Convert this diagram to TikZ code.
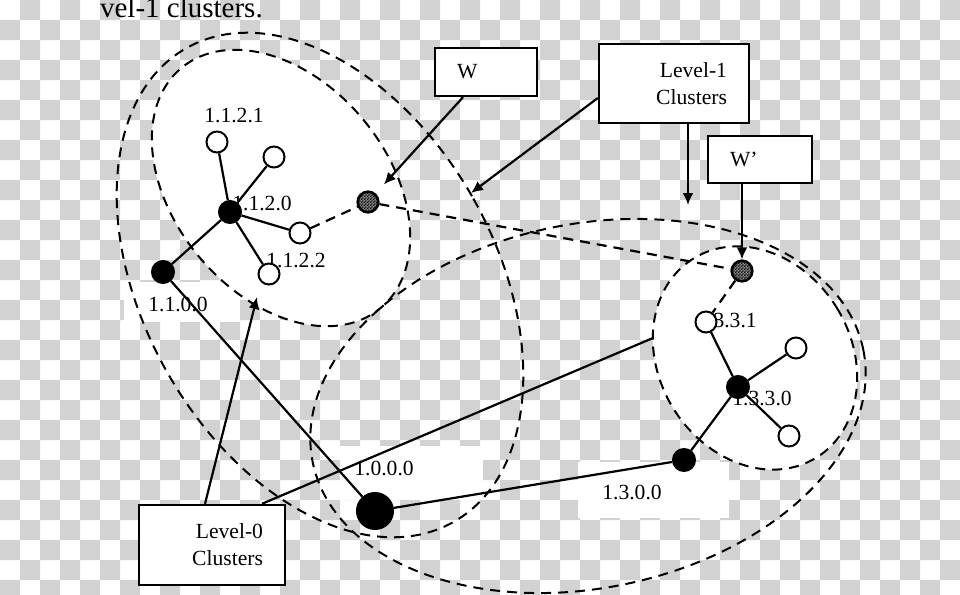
\documentclass[tikz,border=0pt]{standalone}
\usepackage{fontspec}
\setmainfont{Liberation Serif}
\usepackage{tikz}
\usetikzlibrary{arrows.meta,patterns}
\definecolor{checkgray}{HTML}{D2D2D2}
\pgfdeclarepatternformonly{finechecks}{\pgfpointorigin}{\pgfqpoint{1.6pt}{1.6pt}}{\pgfqpoint{1.6pt}{1.6pt}}{%
  \pgfpathrectangle{\pgfpointorigin}{\pgfqpoint{0.85pt}{0.85pt}}%
  \pgfpathrectangle{\pgfqpoint{0.8pt}{0.8pt}}{\pgfqpoint{0.85pt}{0.85pt}}%
  \pgfusepath{fill}}

\begin{document}
\begin{tikzpicture}[
  x=0.5pt, y=-0.5pt,
  >={Latex[length=6pt,width=5.5pt]},
  every node/.style={font=\fontsize{10.8}{13.5}\selectfont},
  hub/.style={
    draw, circle, fill=black, line width=1pt,
    minimum size=11pt, inner sep=0pt
  },
  rootnode/.style={hub, minimum size=18pt},
  leaf/.style={
    draw, circle, fill=white, line width=1pt,
    minimum size=10.5pt, inner sep=0pt
  },
  wnode/.style={
    draw, circle, line width=1.3pt, preaction={fill=black!45},
    pattern=finechecks, minimum size=10.3pt, inner sep=0pt
  },
  addr/.style={inner sep=0pt},
  box/.style={
    draw, rectangle, fill=white, line width=1.2pt,
    inner xsep=11pt, inner ysep=0pt
  },
  cluster/.style={line width=1pt, dash pattern=on 5pt off 3.5pt},
  link/.style={line width=1.1pt},
  wlink/.style={link, dash pattern=on 5pt off 3.5pt},
  pointer/.style={->, line width=1.1pt}
]
\useasboundingbox (0,0) rectangle (960,595);
\clip (0,0) rectangle (960,595);

% --- background ---
\fill[white] (0,0) rectangle (960,595);
\fill[checkgray]
  \foreach \i in {0,...,47} {
    \foreach \j in {0,...,29} {
      \ifodd\numexpr\i+\j\relax (\i*20,\j*20) rectangle ++(20,20) \fi
    }
  };
\fill[white] (124,282) rectangle (240,322);
\fill[white] (340,446) rectangle (483,500);
\fill[white] (578,462) rectangle (729,518);

% --- clusters ---
\fill[white, rotate around={39.6:(281,188)}] (281,188) ellipse [x radius=107, y radius=156];
\fill[white, rotate around={31.6:(755,358)}] (755,358) ellipse [x radius=96, y radius=117];
\draw[cluster, rotate around={29.4:(320,285)}] (320,285) ellipse [x radius=176, y radius=272];
\draw[cluster, rotate around={11.6:(588,406)}] (588,406) ellipse [x radius=281, y radius=182];
\draw[cluster, rotate around={39.6:(281,188)}] (281,188) ellipse [x radius=107, y radius=156];
\draw[cluster, rotate around={31.6:(755,358)}] (755,358) ellipse [x radius=96, y radius=117];

\node[anchor=base west, font=\fontsize{14.5}{17}\selectfont] (title) at (93,17) {vel-1 clusters.};

% --- addresses ---
\node[addr] (t1121) at (234,115) {1.1.2.1};
\node[addr] (t1120) at (262,203) {1.1.2.0};
\node[addr] (t1122) at (296,260) {1.1.2.2};
\node[addr] (t1100) at (178,304) {1.1.0.0};
\node[addr] (t1000) at (384,468) {1.0.0.0};
\node[addr] (t1300) at (632,492) {1.3.0.0};
\node[addr] (t1330) at (762,398) {1.3.3.0};
\node[addr] (t1331) at (727,320) {1.3.3.1};

% --- nodes ---
\node[hub] (h1) at (230,212) {};
\node[leaf] (a1) at (217,142) {};
\node[leaf] (a2) at (274,157) {};
\node[leaf] (a3) at (300,233) {};
\node[leaf] (a4) at (269,274) {};
\node[hub] (g1) at (163,272) {};
\node[wnode] (w) at (368,202) {};
\node[rootnode] (root) at (375,511) {};
\node[hub] (g3) at (684,460) {};
\node[hub] (h3) at (738,387) {};
\node[leaf] (b1) at (706,322) {};
\node[leaf] (b2) at (796,348) {};
\node[leaf] (b3) at (789,436) {};
\node[wnode] (wp) at (742,271) {};

% --- links ---
\draw[link] (h1) -- (a1);
\draw[link] (h1) -- (a2);
\draw[link] (h1) -- (a3);
\draw[link] (h1) -- (a4);
\draw[link] (h1) -- (g1);
\draw[link] (g1) -- (root);
\draw[link] (root) -- (g3);
\draw[link] (g3) -- (h3);
\draw[link] (h3) -- (b1);
\draw[link] (h3) -- (b2);
\draw[link] (h3) -- (b3);
\draw[wlink] (a3) -- (w);
\draw[wlink] (w) -- (wp);
\draw[wlink] (wp) -- (b1);

% --- boxes ---
\node[box, text width=29pt, align=left, minimum height=24pt] (wbox) at (486,72) {W};
\node[box, text width=30pt, align=left, minimum height=23.5pt] (wpbox) at (760,159.5) {W’};
\node[box, text width=53pt, align=right, minimum height=39.5pt] (l1box) at (674,83.5) {Level-1\\Clusters};
\node[box, text width=51pt, align=right, minimum height=40pt] (l0box) at (212,545) {Level-0\\Clusters};

\coordinate (l1tipP) at (471,193);
\coordinate (l1tipQ) at (688,205);
\coordinate (l0tipA) at (257,297);
\coordinate (l0endC) at (653,338);

\draw[pointer, shorten >=6pt] ([xshift=-11.5pt]wbox.south) -- (w);
\draw[pointer] (wp |- wpbox.south) -- (wp);
\draw[pointer] ([yshift=-7.25pt]l1box.west) -- (l1tipP);
\draw[pointer] ([xshift=7pt]l1box.south) -- (l1tipQ);
\draw[pointer] ([xshift=-3.5pt]l0box.north) -- (l0tipA);
\draw[link] ([xshift=25pt]l0box.north) -- (l0endC);

\end{tikzpicture}
\end{document}
